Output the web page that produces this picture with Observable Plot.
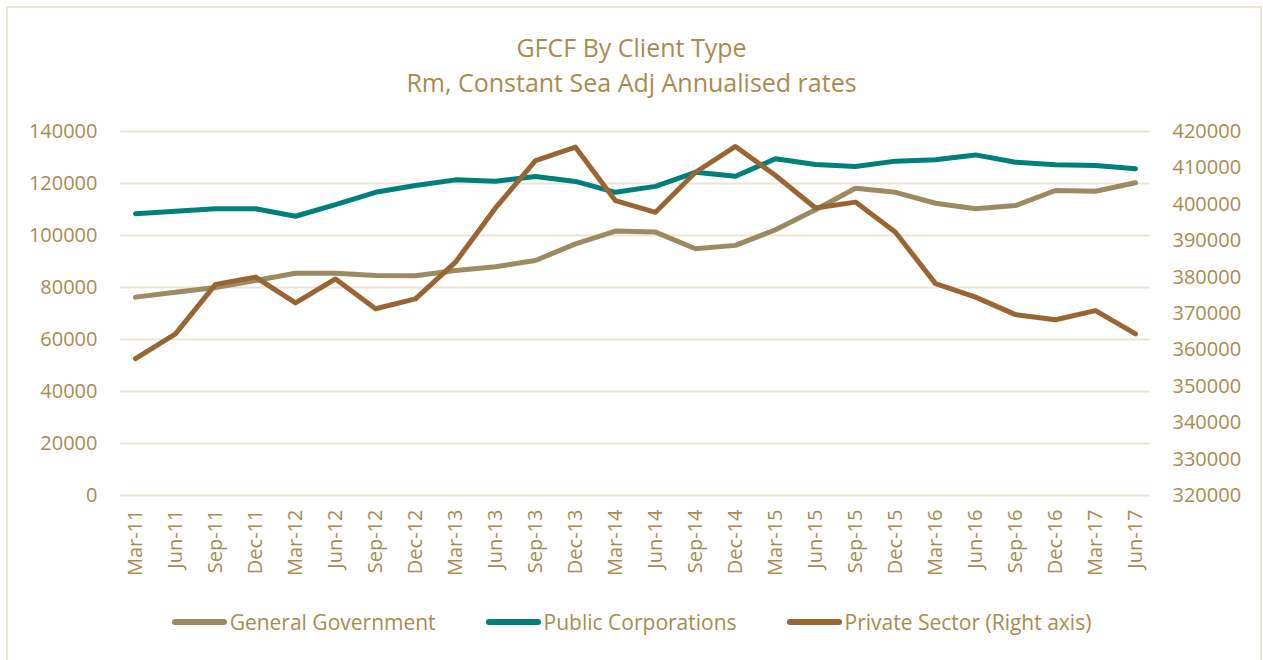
<!DOCTYPE html>
<html>
<head>
<meta charset="utf-8">
<script src="https://cdn.jsdelivr.net/npm/d3@7"></script>
<script src="https://cdn.jsdelivr.net/npm/@observablehq/plot@0.6"></script>
<style>
  html, body { margin: 0; padding: 0; background: #fff; }
  body { width: 1263px; height: 660px; overflow: hidden; position: relative; font-family: "Open Sans", sans-serif; color: #a88c4e; }
  #frame { position: absolute; left: 6px; top: 6px; width: 1256px; height: 670px; box-sizing: border-box; border: 2px solid #ede6d8; pointer-events: none; }
  #title { padding-top: 30px; height: 80px; text-align: center; font-size: 25px; line-height: 35px; }
  #chart { height: 480px; }
  #chart svg { display: block; }
  #legend { margin-top: 18px; display: flex; justify-content: center; gap: 50px; font-size: 21px; line-height: 28px; }
  .item { display: flex; align-items: center; }
  .sw { width: 55px; height: 6px; border-radius: 3px; margin-right: 3px; }
</style>
</head>
<body>
<div id="frame"></div>
<div id="title"><div>GFCF By Client Type</div><div>Rm, Constant Sea Adj Annualised rates</div></div>
<div id="chart"></div>
<div id="legend"></div>
<script>
const quarters = ["Mar-11","Jun-11","Sep-11","Dec-11","Mar-12","Jun-12","Sep-12","Dec-12","Mar-13","Jun-13","Sep-13","Dec-13","Mar-14","Jun-14","Sep-14","Dec-14","Mar-15","Jun-15","Sep-15","Dec-15","Mar-16","Jun-16","Sep-16","Dec-16","Mar-17","Jun-17"];
const generalGovernment = [76300,78200,80000,82700,85500,85500,84600,84500,86500,88000,90400,96800,101700,101300,94900,96200,102200,109900,118200,116600,112400,110300,111500,117300,117000,120300];
const publicCorporations = [108400,109300,110300,110300,107400,111900,116600,119200,121400,120900,122700,120800,116600,118900,124300,122800,129500,127300,126500,128600,129100,131000,128200,127200,126900,125700];
const privateSector = [357600,364400,378000,380000,372900,379500,371300,374000,384100,399000,412000,415700,401000,397800,408800,415900,407900,399000,400600,392300,378200,374500,369700,368300,370800,364400];
const leftTicks = [0,20000,40000,60000,80000,100000,120000,140000];
const rightTicks = [320000,330000,340000,350000,360000,370000,380000,390000,400000,410000,420000];
const seriesNames = ["General Government","Public Corporations","Private Sector (Right axis)"];
const colors = ["#9c8a60","#00807b","#9a6533"];

const rightMin = 320000, rightMax = 420000, leftMax = 140000;
const toLeft = v => (v - rightMin) * leftMax / (rightMax - rightMin);

const rows = quarters.map((q, i) => ({q, gov: generalGovernment[i], pub: publicCorporations[i], priv: toLeft(privateSector[i])}));

const lineOpts = {strokeWidth: 5, strokeLinecap: "round", strokeLinejoin: "round"};

const chart = Plot.plot({
  width: 1263,
  height: 480,
  marginTop: 21,
  marginBottom: 95,
  marginLeft: 120,
  marginRight: 113,
  style: {fontFamily: "Open Sans, sans-serif", fontSize: "20px", color: "#a88c4e", background: "transparent"},
  x: {type: "point", domain: quarters, padding: 0.17, label: null},
  y: {domain: [0, leftMax], label: null},
  marks: [
    Plot.gridY(leftTicks, {stroke: "#ece5d6", strokeOpacity: 1, strokeWidth: 2}),
    Plot.axisY(leftTicks, {anchor: "left", tickSize: 0, tickPadding: 23, tickFormat: d => String(d), label: null}),
    Plot.axisY(rightTicks.map(toLeft), {anchor: "right", tickSize: 0, tickPadding: 22, tickFormat: d => String(Math.round(rightMin + d * (rightMax - rightMin) / leftMax)), label: null}),
    Plot.axisX({tickSize: 0, tickRotate: -90, tickPadding: 14, label: null}),
    Plot.line(rows, {x: "q", y: "gov", stroke: colors[0], ...lineOpts}),
    Plot.line(rows, {x: "q", y: "pub", stroke: colors[1], ...lineOpts}),
    Plot.line(rows, {x: "q", y: "priv", stroke: colors[2], ...lineOpts})
  ]
});
document.getElementById("chart").appendChild(chart);

const legend = document.getElementById("legend");
seriesNames.forEach((name, i) => {
  const item = document.createElement("div");
  item.className = "item";
  const sw = document.createElement("div");
  sw.className = "sw";
  sw.style.background = colors[i];
  const label = document.createElement("span");
  label.textContent = name;
  item.appendChild(sw);
  item.appendChild(label);
  legend.appendChild(item);
});
</script>
</body>
</html>
